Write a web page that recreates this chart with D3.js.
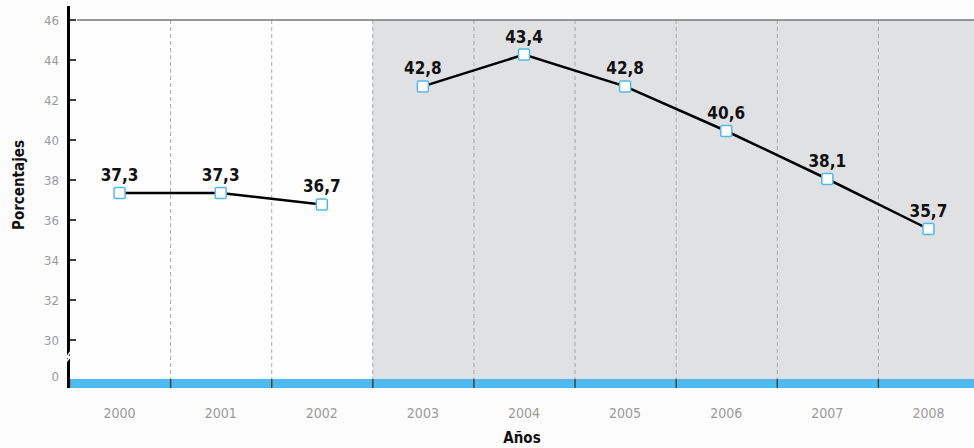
<!DOCTYPE html>
<html>
<head>
<meta charset="utf-8">
<script src="https://cdn.jsdelivr.net/npm/d3@7"></script>
<style>
  body { margin: 0; background: #fcfcfc; }
  svg { display: block; }
  text { font-family: "Liberation Sans Narrow", "DejaVu Sans Condensed", sans-serif; }
</style>
</head>
<body>
<script>
var years = ["2000", "2001", "2002", "2003", "2004", "2005", "2006", "2007", "2008"];
// position of each marker
var values = [37.35, 37.35, 36.78, 42.68, 44.27, 42.68, 40.45, 38.05, 35.55];
// printed labels
var labels = ["37,3", "37,3", "36,7", "42,8", "43,4", "42,8", "40,6", "38,1", "35,7"];
// the line is broken between the two periods, second one is shaded
var period = [1, 1, 1, 2, 2, 2, 2, 2, 2];
var yTicks = [30, 32, 34, 36, 38, 40, 42, 44, 46];

(function () {
var width = 974, height = 448;
var plotLeft = 69, plotTop = 20, bandTop = 379, bandBottom = 388;

var svg = d3.select("body").append("svg")
    .attr("width", width)
    .attr("height", height);

var x = d3.scaleBand()
    .domain(years)
    .range([plotLeft, 979])
    .padding(0);

var y = d3.scaleLinear()
    .domain([30, 46])
    .range([340, plotTop]);

var data = years.map(function (d, i) {
    return { year: d, value: values[i], label: labels[i], period: period[i] };
});

// plot background
svg.append("rect")
    .attr("x", plotLeft).attr("y", plotTop)
    .attr("width", width - plotLeft).attr("height", bandTop - plotTop)
    .attr("fill", "#fefefe");

var shaded = data.filter(function (d) { return d.period == 2; });
svg.append("rect")
    .attr("x", x(shaded[0].year))
    .attr("y", plotTop)
    .attr("width", width - x(shaded[0].year))
    .attr("height", bandTop - plotTop)
    .attr("fill", "#e0e1e3");

// dashed column separators
svg.selectAll(".sep")
    .data(years.slice(1))
    .enter().append("line")
    .attr("class", "sep")
    .attr("x1", function (d) { return x(d) + 0.5; })
    .attr("x2", function (d) { return x(d) + 0.5; })
    .attr("y1", plotTop)
    .attr("y2", bandTop)
    .attr("stroke", "#a9a9a9")
    .attr("stroke-width", 1)
    .attr("stroke-dasharray", "4,3");

// top border
svg.append("line")
    .attr("x1", 77).attr("x2", width)
    .attr("y1", plotTop).attr("y2", plotTop)
    .attr("stroke", "#777")
    .attr("stroke-width", 1.5);

// blue band along the bottom
svg.append("rect")
    .attr("x", plotLeft).attr("y", bandTop)
    .attr("width", width - plotLeft).attr("height", bandBottom - bandTop)
    .attr("fill", "#4fbaf0");

svg.selectAll(".btick")
    .data(years)
    .enter().append("line")
    .attr("class", "btick")
    .attr("x1", function (d) { return x(d) + 0.5; })
    .attr("x2", function (d) { return x(d) + 0.5; })
    .attr("y1", bandTop)
    .attr("y2", bandBottom)
    .attr("stroke", "#444")
    .attr("stroke-width", 1.5);

// x labels
svg.selectAll(".xlab")
    .data(years)
    .enter().append("text")
    .attr("class", "xlab")
    .attr("x", function (d) { return x(d) + x.bandwidth() / 2; })
    .attr("y", 418)
    .attr("text-anchor", "middle")
    .attr("font-size", 14)
    .attr("fill", "#9a9a9a")
    .text(function (d) { return d; });

// y axis
var gY = svg.append("g")
    .attr("transform", "translate(" + plotLeft + ",0)");

gY.append("line")
    .attr("x1", -0.5).attr("x2", -0.5)
    .attr("y1", 6).attr("y2", bandBottom)
    .attr("stroke", "#000")
    .attr("stroke-width", 3);

gY.selectAll(".ytick")
    .data(yTicks)
    .enter().append("line")
    .attr("class", "ytick")
    .attr("x1", 0).attr("x2", 7)
    .attr("y1", function (d) { return y(d); })
    .attr("y2", function (d) { return y(d); })
    .attr("stroke", "#000")
    .attr("stroke-width", 1.5);

gY.selectAll(".ylab")
    .data(yTicks)
    .enter().append("text")
    .attr("class", "ylab")
    .attr("x", -10)
    .attr("y", function (d) { return y(d); })
    .attr("dy", "0.35em")
    .attr("text-anchor", "end")
    .attr("font-size", 13)
    .attr("fill", "#9a9a9a")
    .text(function (d) { return d; });

gY.append("text")
    .attr("x", -10)
    .attr("y", 376)
    .attr("dy", "0.35em")
    .attr("text-anchor", "end")
    .attr("font-size", 13)
    .attr("fill", "#9a9a9a")
    .text("0");

// axis break
gY.append("path")
    .attr("d", "M-3,362 L2,356 L-3,358 L2,351")
    .attr("fill", "none")
    .attr("stroke", "#fcfcfc")
    .attr("stroke-width", 1.5);

// lines, one per period
var line = d3.line()
    .x(function (d) { return x(d.year) + x.bandwidth() / 2; })
    .y(function (d) { return y(d.value); });

var groups = d3.groups(data, function (d) { return d.period; });
svg.selectAll(".series")
    .data(groups)
    .enter().append("path")
    .attr("class", "series")
    .attr("d", function (d) { return line(d[1]); })
    .attr("fill", "none")
    .attr("stroke", "#000")
    .attr("stroke-width", 2.5);

svg.selectAll(".marker")
    .data(data)
    .enter().append("rect")
    .attr("class", "marker")
    .attr("x", function (d) { return x(d.year) + x.bandwidth() / 2 - 5.5; })
    .attr("y", function (d) { return y(d.value) - 5.5; })
    .attr("width", 11)
    .attr("height", 11)
    .attr("rx", 1.5)
    .attr("fill", "#fff")
    .attr("stroke", "#4fb9ef")
    .attr("stroke-width", 1.5);

svg.selectAll(".vlab")
    .data(data)
    .enter().append("text")
    .attr("class", "vlab")
    .attr("x", function (d) { return x(d.year) + x.bandwidth() / 2; })
    .attr("y", function (d) { return y(d.value) - 12; })
    .attr("text-anchor", "middle")
    .attr("font-size", 17)
    .attr("font-weight", "bold")
    .attr("fill", "#111")
    .text(function (d) { return d.label; });

// axis titles
svg.append("text")
    .attr("transform", "translate(24,185) rotate(-90)")
    .attr("text-anchor", "middle")
    .attr("font-size", 15)
    .attr("font-weight", "bold")
    .attr("fill", "#111")
    .text("Porcentajes");

svg.append("text")
    .attr("x", 522)
    .attr("y", 443)
    .attr("text-anchor", "middle")
    .attr("font-size", 15)
    .attr("font-weight", "bold")
    .attr("fill", "#111")
    .text("Años");
})();
</script>
</body>
</html>
